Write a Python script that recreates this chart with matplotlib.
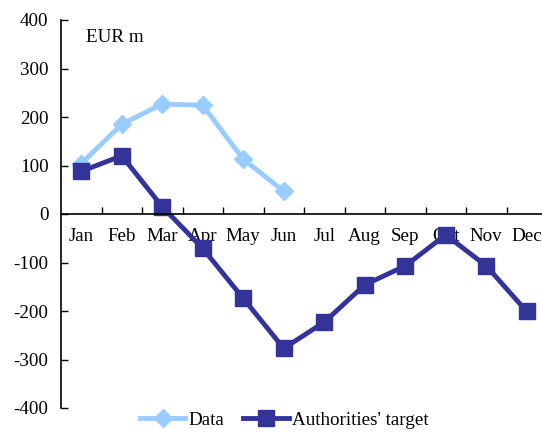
import matplotlib.pyplot as plt
from matplotlib.ticker import FixedLocator

plt.rcParams['font.family'] = ['Liberation Serif', 'DejaVu Serif']

months = ["Jan", "Feb", "Mar", "Apr", "May", "Jun", "Jul", "Aug", "Sep", "Oct", "Nov", "Dec"]
data_vals = [104, 185, 227, 224, 113, 47]
target_vals = [88, 120, 15, -71, -174, -277, -223, -146, -107, -43, -107, -201]
yticks = [-400, -300, -200, -100, 0, 100, 200, 300, 400]

W, H = 542, 432
fig = plt.figure(figsize=(W / 100, H / 100), dpi=100)
ax = fig.add_axes([61 / W, 24 / H, 486 / W, 388 / H])

x = list(range(len(months)))
ax.plot(x[:len(data_vals)], data_vals, color='#99CCFF', lw=3.5, marker='D',
        markersize=9, label='Data')
ax.plot(x, target_vals, color='#333399', lw=3.5, marker='s',
        markersize=11.5, label="Authorities' target")

ax.set_xlim(-0.5, 11.5)
ax.set_ylim(-400, 400)
ax.set_yticks(yticks)
ax.set_yticklabels([str(v) for v in yticks], fontsize=13.7)
ax.tick_params(axis='y', direction='in', length=5, width=1, pad=9)

ax.spines['top'].set_visible(False)
ax.spines['right'].set_visible(False)
ax.spines['bottom'].set_position(('data', 0))
ax.spines['left'].set_linewidth(1.2)
ax.spines['bottom'].set_linewidth(1.2)

ax.set_xticks(x)
ax.set_xticklabels(months, fontsize=13.7)
ax.tick_params(axis='x', which='major', length=0, pad=10)
ax.xaxis.set_minor_locator(FixedLocator([i + 0.5 for i in range(11)]))
ax.tick_params(axis='x', which='minor', direction='in', length=5, width=1)

ax.text(0.051, 0.955, "EUR m", transform=ax.transAxes, fontsize=13.7, va='center')

fig.legend(loc='center', bbox_to_anchor=(284 / W, 12 / H), ncol=2, frameon=False,
           fontsize=13.7, handlelength=2.4, columnspacing=1.0, borderaxespad=0,
           handletextpad=0.15)

fig.savefig('out.png', dpi=100)
